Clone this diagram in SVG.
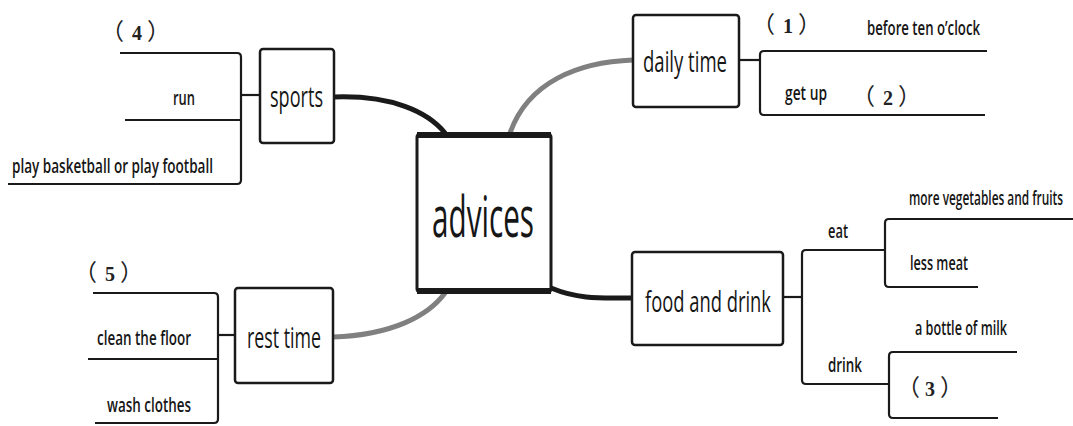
<svg xmlns="http://www.w3.org/2000/svg" width="1073" height="426" viewBox="0 0 1073 426">
<style>
.bg{fill:#fff}
.box{fill:#fff;stroke:#1a1a1a;stroke-width:2.5}
.branch{fill:none;stroke:#1a1a1a;stroke-width:2.2}
.thick{fill:none;stroke:#1a1a1a;stroke-width:5;stroke-linecap:round}
.grey{fill:none;stroke:#808080;stroke-width:5;stroke-linecap:round}
.t{font-family:"Open Sans","Liberation Sans",sans-serif;fill:#161616}
.big{font-size:56px}
.mid{font-size:30px;font-weight:500}
.sm{font-size:20px;font-weight:600}
.num{font-family:"Noto Sans CJK SC","Liberation Serif",sans-serif;font-size:23px;fill:#222}
.dig{font-family:"Liberation Serif",serif;font-weight:bold;font-size:20px}
</style>
<rect class="bg" x="0" y="0" width="1073" height="426"/>

<g id="connectors">
  <path class="thick" d="M334,97 C392,95 428,112 445,133"/>
  <path class="grey" d="M510,133 C528,82 578,62 633,60"/>
  <path class="grey" d="M333,337 C392,335 428,316 445,293"/>
  <path class="thick" d="M551,288 C580,300 602,298 632,298"/>
  <!-- sports branch -->
  <path class="branch" d="M120,53 H237 Q241,53 241,57 V180 Q241,184 237,184 H8"/>
  <path class="branch" d="M125,120 H241"/>
  <path class="branch" d="M241,95 H260"/>
  <!-- daily time branch -->
  <path class="branch" d="M987,51 H764 Q760,51 760,55 V111 Q760,115 764,115 H985"/>
  <path class="branch" d="M739,60 H760"/>
  <!-- rest time branch -->
  <path class="branch" d="M93,293 H214 Q218,293 218,297 V419 Q218,423 214,423 H95"/>
  <path class="branch" d="M88,359 H218"/>
  <path class="branch" d="M218,335 H235"/>
  <!-- food and drink branch -->
  <path class="branch" d="M783,297 H802"/>
  <path class="branch" d="M885,250 H806 Q802,250 802,254 V380 Q802,384 806,384 H889"/>
  <path class="branch" d="M1073,219 H889 Q885,219 885,223 V283 Q885,287 889,287 H978"/>
  <path class="branch" d="M1017,352 H893 Q889,352 889,356 V414 Q889,418 893,418 H998"/>
</g>

<g id="advices">
  <rect class="box" x="417" y="134" width="134" height="158" rx="3" style="stroke-width:3"/>
  <line x1="417" y1="135" x2="551" y2="135" stroke="#1a1a1a" stroke-width="6"/>
  <line x1="417" y1="291" x2="551" y2="291" stroke="#1a1a1a" stroke-width="6"/>
  <text class="t big" x="432" y="237" textLength="102" lengthAdjust="spacingAndGlyphs">advices</text>
</g>

<g id="sports">
  <rect class="box" x="260" y="49" width="74" height="94" rx="3"/>
  <text class="t mid" x="270" y="107" textLength="53" lengthAdjust="spacingAndGlyphs">sports</text>
</g>

<g id="daily-time">
  <rect class="box" x="633" y="15" width="106" height="92" rx="3"/>
  <text class="t mid" x="643" y="72" textLength="84" lengthAdjust="spacingAndGlyphs">daily time</text>
</g>

<g id="rest-time">
  <rect class="box" x="235" y="288" width="98" height="95" rx="3"/>
  <text class="t mid" x="247" y="348" textLength="74" lengthAdjust="spacingAndGlyphs">rest time</text>
</g>

<g id="food-and-drink">
  <rect class="box" x="632" y="252" width="151" height="93" rx="3"/>
  <text class="t mid" x="645" y="312" textLength="126" lengthAdjust="spacingAndGlyphs">food and drink</text>
</g>

<g id="sports-items">
  <text class="num" y="40"><tspan x="101">（</tspan><tspan class="dig" x="132">4</tspan><tspan x="147">）</tspan></text>
  <text class="t sm" x="173" y="105" textLength="22" lengthAdjust="spacingAndGlyphs">run</text>
  <text class="t sm" x="12" y="173" textLength="201" lengthAdjust="spacingAndGlyphs">play basketball or play football</text>
</g>

<g id="daily-items">
  <text class="num" y="33"><tspan x="752">（</tspan><tspan class="dig" x="783">1</tspan><tspan x="798">）</tspan></text>
  <text class="t sm" x="867" y="35" textLength="113" lengthAdjust="spacingAndGlyphs">before ten o’clock</text>
  <text class="t sm" x="785" y="100" textLength="42" lengthAdjust="spacingAndGlyphs">get up</text>
  <text class="num" y="105"><tspan x="852">（</tspan><tspan class="dig" x="883">2</tspan><tspan x="898">）</tspan></text>
</g>

<g id="rest-items">
  <text class="num" y="281"><tspan x="74">（</tspan><tspan class="dig" x="105">5</tspan><tspan x="120">）</tspan></text>
  <text class="t sm" x="97" y="345" textLength="94" lengthAdjust="spacingAndGlyphs">clean the floor</text>
  <text class="t sm" x="107" y="412" textLength="84" lengthAdjust="spacingAndGlyphs">wash clothes</text>
</g>

<g id="food-items">
  <text class="t sm" x="828" y="238" textLength="20" lengthAdjust="spacingAndGlyphs">eat</text>
  <text class="t sm" x="828" y="372" textLength="34" lengthAdjust="spacingAndGlyphs">drink</text>
  <text class="t sm" transform="translate(909,205) scale(0.575,1)" x="0" y="0" textLength="268" lengthAdjust="spacingAndGlyphs">more vegetables and fruits</text>
  <text class="t sm" x="910" y="270" textLength="58" lengthAdjust="spacingAndGlyphs">less meat</text>
  <text class="t sm" x="915" y="335" textLength="92" lengthAdjust="spacingAndGlyphs">a bottle of milk</text>
  <text class="num" y="396"><tspan x="897">（</tspan><tspan class="dig" x="925">3</tspan><tspan x="940">）</tspan></text>
</g>
</svg>
